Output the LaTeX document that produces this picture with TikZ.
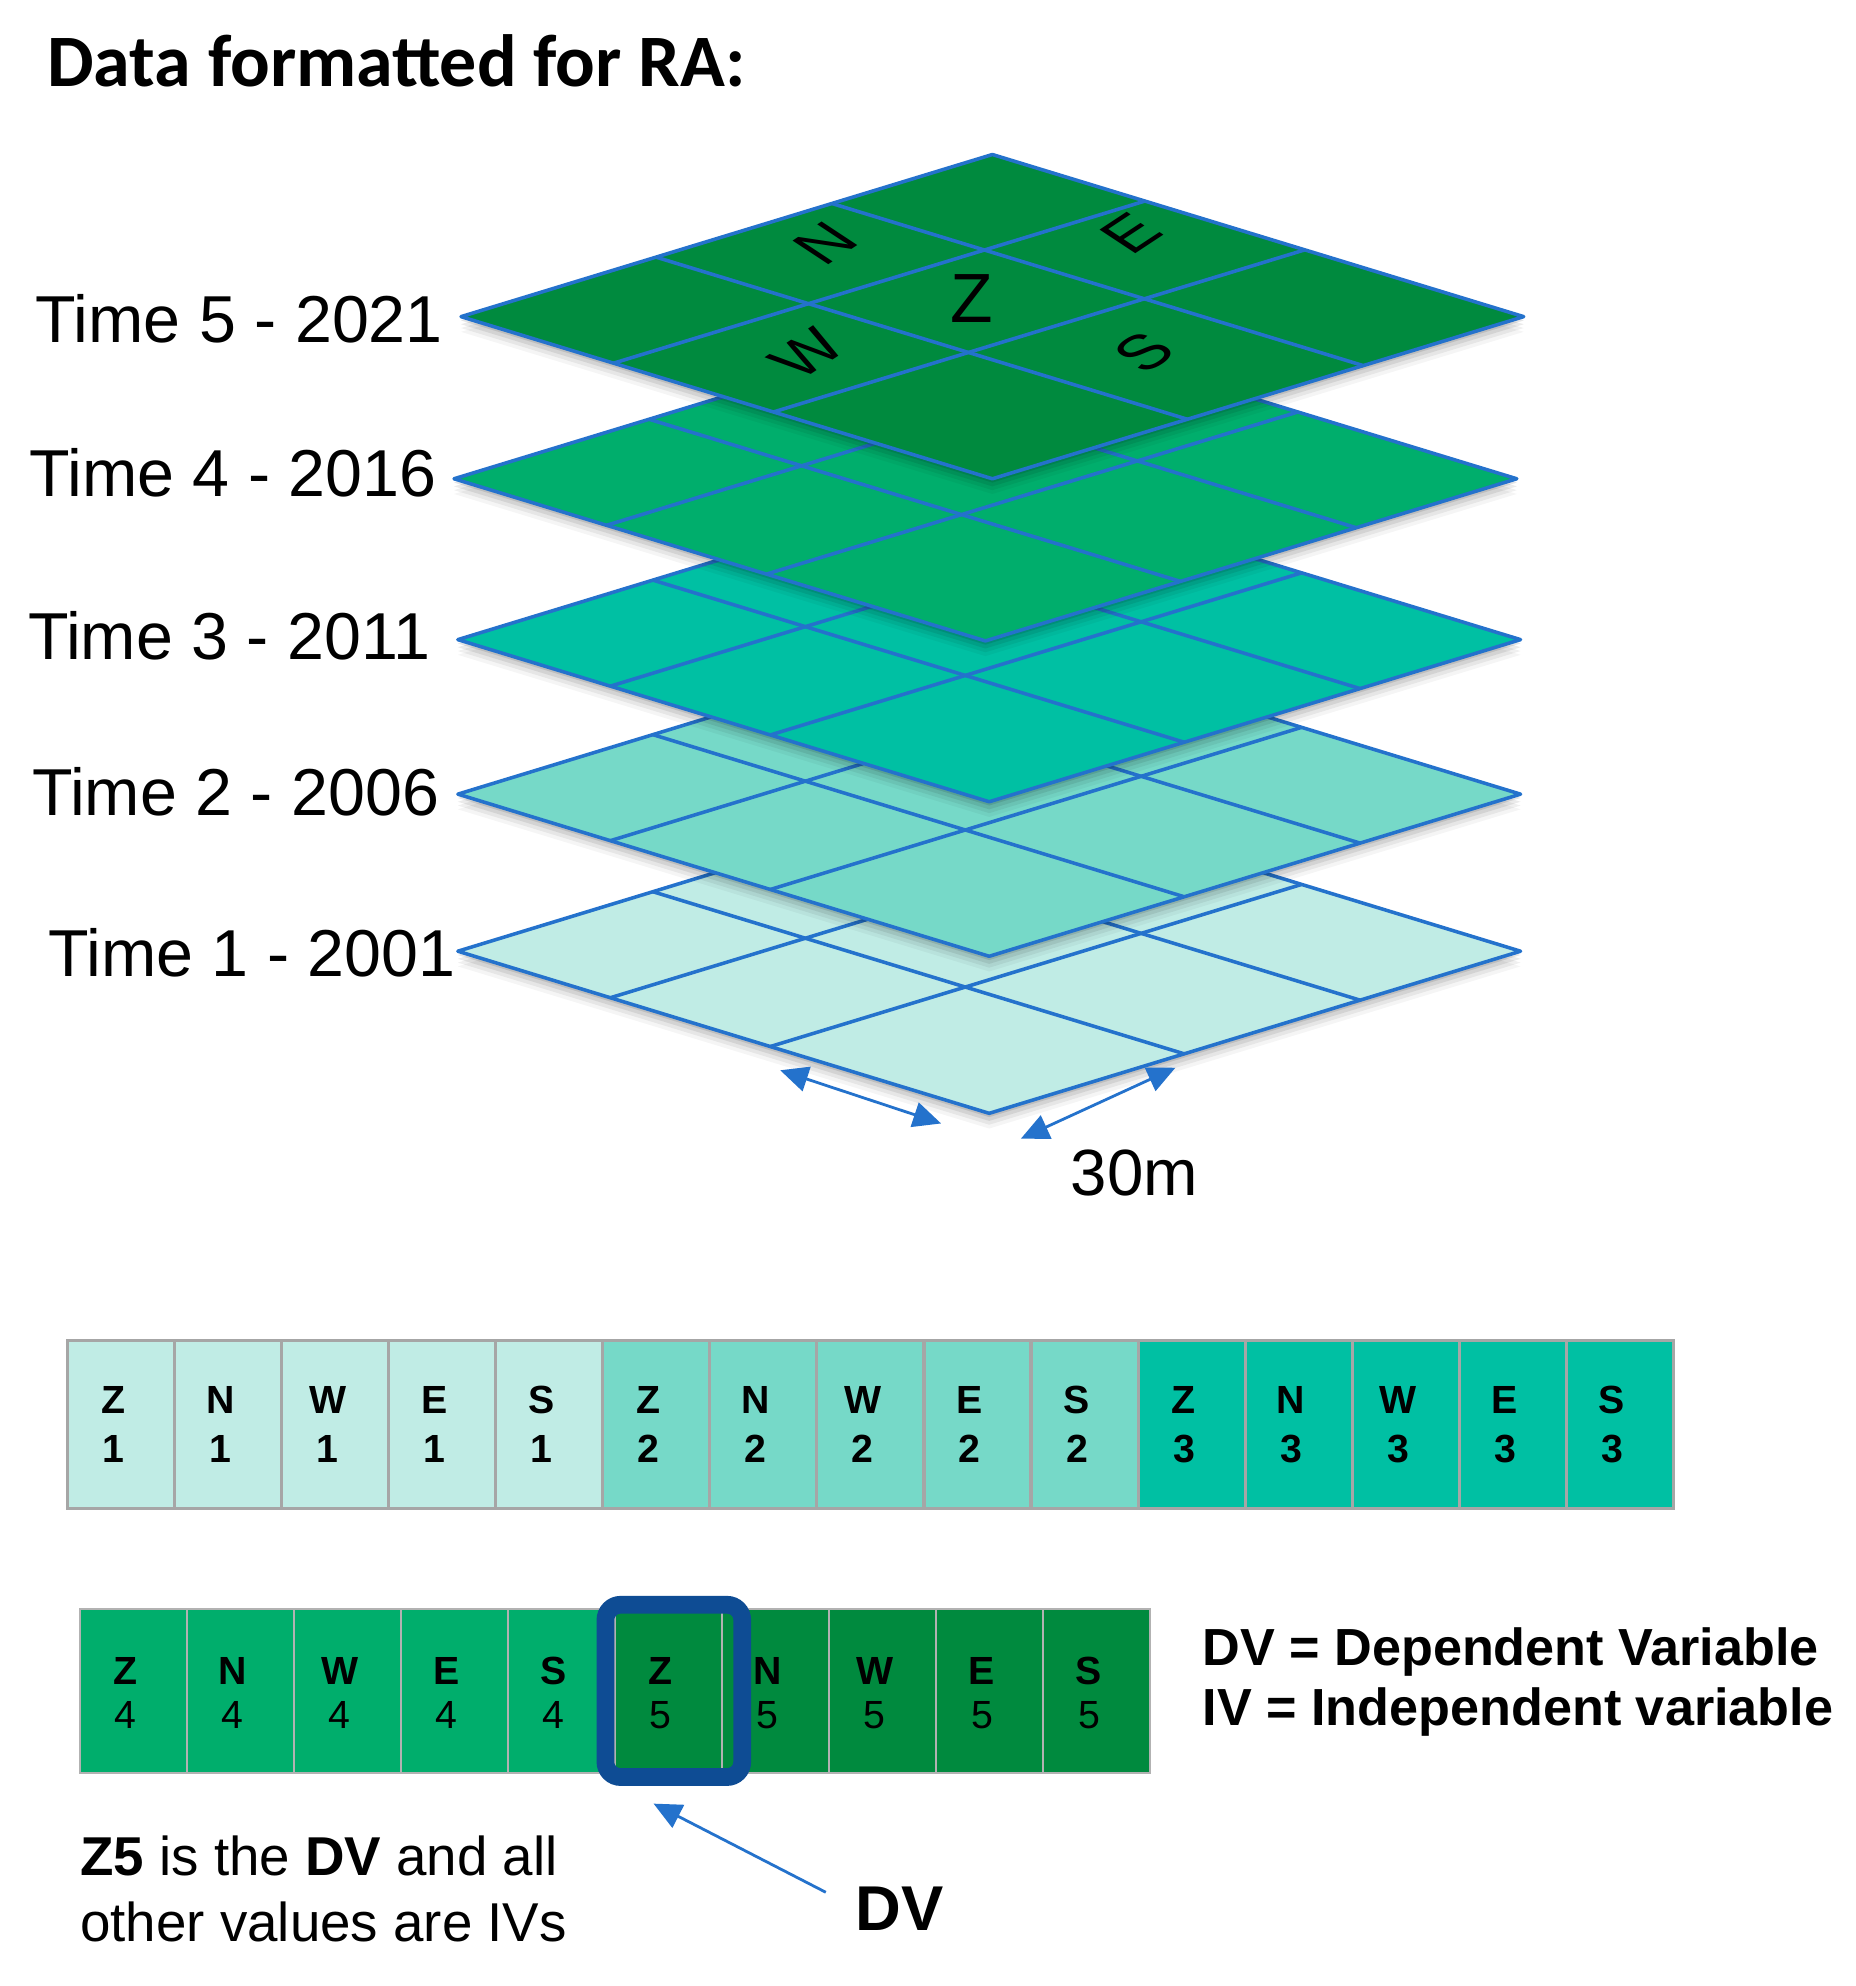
\documentclass[tikz,border=0pt]{standalone}
\usepackage{fontspec}
\setmainfont{Liberation Sans}
\newfontfamily\titlefont{Carlito}
\usetikzlibrary{arrows.meta}
\definecolor{gridblue}{RGB}{36,114,204}
\definecolor{dvblue}{RGB}{14,76,148}
\definecolor{cA}{RGB}{192,236,229}
\definecolor{cB}{RGB}{118,217,200}
\definecolor{cC}{RGB}{0,192,163}
\definecolor{cD}{RGB}{0,174,108}
\definecolor{cE}{RGB}{0,138,62}
\definecolor{cellgray}{RGB}{166,166,166}
\definecolor{cellgrayB}{RGB}{178,178,178}
\tikzset{
  gridln/.style={draw=gridblue, line width=1.4pt, line join=round},
  timelbl/.style={anchor=east, inner sep=0pt, font=\fontsize{26.2}{31}\selectfont},
  dirlbl/.style={inner sep=0pt, font=\fontsize{29}{34}\selectfont, yscale=0.66, rotate=45},
  cellA/.style={draw=cellgray, line width=1.2pt, minimum width=42.25pt, minimum height=66.5pt, inner sep=0pt},
  cellB/.style={draw=cellgrayB, line width=0.8pt, minimum width=42.25pt, minimum height=65pt, inner sep=0pt},
  celltxt/.style={inner sep=0pt, font=\fontsize{15.5}{18}\selectfont},
  dimarrow/.style={draw=gridblue, line width=1.1pt, {Triangle[length=11pt,width=10pt]}-{Triangle[length=11pt,width=10pt]}},
  ptarrow/.style={draw=gridblue, line width=1.1pt, -{Triangle[length=11pt,width=10pt]}},
}
% layer: centre x, centre y, fill colour
\newcommand\gridlayer[3]{%
  \begin{scope}[shift={(#1,#2)}]
    \foreach \d/\o in {12/0.04,9/0.06,6/0.08,3/0.10}{%
      \fill[black,opacity=\o] (-419.5,\d) -- (0,{-128+\d}) -- (419.5,\d) -- (0,{128+\d}) -- cycle;}
    \fill[#3] (-419.5,0) -- (0,-128) -- (419.5,0) -- (0,128) -- cycle;
    \foreach \a in {0.367,0.698}{%
      \draw[gridln] ({-419.5+419.5*\a},{-128*\a}) -- ({419.5*\a},{128-128*\a});}
    \foreach \b in {0.287,0.588}{%
      \draw[gridln] ({-419.5+419.5*\b},{128*\b}) -- ({419.5*\b},{-128+128*\b});}
    \draw[gridln] (-419.5,0) -- (0,-128) -- (419.5,0) -- (0,128) -- cycle;
  \end{scope}}
\begin{document}
\begin{tikzpicture}[x=0.5pt,y=-0.5pt]
\useasboundingbox[fill=white] (0,0) rectangle (1465,1568);

% title
\node[anchor=west, inner sep=0pt, font=\titlefont\bfseries\fontsize{29.2}{35}\selectfont] (title) at (37,48) {Data formatted for RA:};

% layers
\gridlayer{781}{751}{cA}
\gridlayer{781}{627}{cB}
\gridlayer{781}{505}{cC}
\gridlayer{778}{378}{cD}
\gridlayer{783.5}{250}{cE}

% labels on top layer
\node[dirlbl] (lblN) at (652,192) {N};
\node[dirlbl] (lblE) at (893,184) {E};
\node[dirlbl] (lblW) at (637,279) {W};
\node[dirlbl] (lblS) at (903,278) {S};
\node[inner sep=0pt, font=\fontsize{27.5}{32}\selectfont] (lblZ) at (767,236) {Z};

% time labels
\node[timelbl] (t5) at (350,252) {Time 5 - 2021};
\node[timelbl] (t4) at (345,373) {Time 4 - 2016};
\node[timelbl] (t3) at (340,502) {Time 3 - 2011};
\node[timelbl] (t2) at (347,625) {Time 2 - 2006};
\node[timelbl] (t1) at (360,752) {Time 1 - 2001};

% dimension arrows
\coordinate (a1s) at (616,845);
\coordinate (a1e) at (743,887);
\coordinate (a2s) at (806,899);
\coordinate (a2e) at (928,843);
\draw[dimarrow] (a1s) -- (a1e);
\draw[dimarrow] (a2s) -- (a2e);
\node[anchor=base west, inner sep=0pt, font=\fontsize{25.8}{30}\selectfont] (dimlbl) at (845,944) {30m};

% table row 1
\foreach \t/\col [count=\k from 0] in {1/cA,2/cB,3/cC}{
  \foreach \L [count=\j from 0] in {Z,N,W,E,S}{
    \pgfmathsetmacro\cx{95.75+84.5*(5*\k+\j)}
    \node[cellA, fill=\col] (a\L\t) at (\cx,1124.5) {};
    \node[celltxt] at ([shift={(-6,-19.5)}]a\L\t.center) {\bfseries\L};
    \node[celltxt] at ([shift={(-6,19.5)}]a\L\t.center) {\bfseries\t};
  }
}

% table row 2
\foreach \t/\col [count=\k from 0] in {4/cD,5/cE}{
  \foreach \L [count=\j from 0] in {Z,N,W,E,S}{
    \pgfmathsetmacro\cx{105.25+84.5*(5*\k+\j)}
    \node[cellB, fill=\col] (b\L\t) at (\cx,1335) {};
    \node[celltxt] at ([shift={(-6,-16)}]b\L\t.center) {\bfseries\L};
    \node[celltxt] at ([shift={(-6,19)}]b\L\t.center) {\t};
  }
}

% DV highlight
\node[draw=dvblue, line width=7pt, rounded corners=6pt, minimum width=54pt, minimum height=68pt, inner sep=0pt] (dvbox) at (532,1335) {};

% legend
\node[anchor=base west, inner sep=0pt, font=\bfseries\fontsize{20.6}{24}\selectfont] (leg1) at (949,1315) {DV = Dependent Variable};
\node[anchor=base west, inner sep=0pt, font=\bfseries\fontsize{20.6}{24}\selectfont] (leg2) at (949,1362) {IV = Independent variable};

% caption
\node[anchor=base west, inner sep=0pt, font=\fontsize{21.6}{26}\selectfont] (cap1) at (63,1481) {\textbf{Z5} is the \textbf{DV} and all};
\node[anchor=base west, inner sep=0pt, font=\fontsize{21.6}{26}\selectfont] (cap2) at (63,1533) {other values are IVs};

% DV pointer
\node[anchor=base, inner sep=0pt, font=\bfseries\fontsize{25}{29}\selectfont] (dvlbl) at (710,1524) {DV};
\coordinate (dvtail) at (652,1494);
\coordinate (dvtip) at (516,1424);
\draw[ptarrow] (dvtail) -- (dvtip);
\end{tikzpicture}
\end{document}
